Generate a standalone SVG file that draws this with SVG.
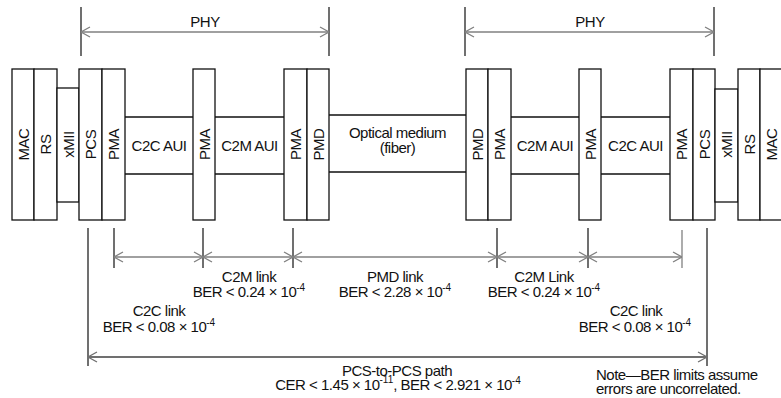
<svg xmlns="http://www.w3.org/2000/svg" width="781" height="398" viewBox="0 0 781 398">
<style>
  text { font-family: "Liberation Sans", Arial, sans-serif; font-size: 15px; letter-spacing: -0.5px; fill: #111; }
  .c { text-anchor: middle; }
  .sup { font-size: 10px; letter-spacing: 0; }
  .blk { fill: #fff; stroke: #111; stroke-width: 1.3; }
  .ln { stroke: #111; stroke-width: 1.3; fill: none; }
  .dim { stroke: #808080; stroke-width: 1.3; fill: none; }
  .ext { stroke: #707070; stroke-width: 2; fill: none; }
  .arr { stroke: #808080; stroke-width: 1.3; fill: none; marker-start: url(#ah); marker-end: url(#ah); }
  .arr2 { stroke: #707070; stroke-width: 2; fill: none; marker-start: url(#ah2); marker-end: url(#ah2); }
</style>
<defs>
  <marker id="ah" viewBox="0 0 10 12" refX="10" refY="6" markerWidth="10" markerHeight="12" markerUnits="userSpaceOnUse" orient="auto-start-reverse">
    <path d="M1,1 L10,6 L1,11" fill="none" stroke="#808080" stroke-width="1.3"/>
  </marker>
  <marker id="ah2" viewBox="0 0 10 12" refX="10" refY="6" markerWidth="10" markerHeight="12" markerUnits="userSpaceOnUse" orient="auto-start-reverse">
    <path d="M1,1 L10,6 L1,11" fill="none" stroke="#707070" stroke-width="1.3"/>
  </marker>
</defs>

<!-- Left stack -->
<g id="mac-left"><rect class="blk" x="12" y="69" width="22" height="151"/><text class="c" transform="translate(23,144.5) rotate(-90)" y="5.5">MAC</text></g>
<g id="rs-left"><rect class="blk" x="34" y="69" width="23" height="151"/><text class="c" transform="translate(45.5,144.5) rotate(-90)" y="5.5">RS</text></g>
<g id="xmii-left"><rect class="blk" x="57" y="88" width="22" height="114"/><text class="c" transform="translate(68,144.5) rotate(-90)" y="5.5">xMII</text></g>
<g id="pcs-left"><rect class="blk" x="79" y="69" width="23" height="151"/><text class="c" transform="translate(90.5,144.5) rotate(-90)" y="5.5">PCS</text></g>
<g id="pma-1"><rect class="blk" x="102" y="69" width="23" height="151"/><text class="c" transform="translate(113.5,144.5) rotate(-90)" y="5.5">PMA</text></g>
<g id="c2c-aui-left"><path class="ln" d="M125,117 H193 M125,174 H193"/><text class="c" x="159" y="151">C2C AUI</text></g>
<g id="pma-2"><rect class="blk" x="193" y="69" width="22" height="151"/><text class="c" transform="translate(204,144.5) rotate(-90)" y="5.5">PMA</text></g>
<g id="c2m-aui-left"><path class="ln" d="M215,117 H284 M215,174 H284"/><text class="c" x="249.5" y="151">C2M AUI</text></g>
<g id="pma-3"><rect class="blk" x="284" y="69" width="23" height="151"/><text class="c" transform="translate(295.5,144.5) rotate(-90)" y="5.5">PMA</text></g>
<g id="pmd-left"><rect class="blk" x="307" y="69" width="22" height="151"/><text class="c" transform="translate(318,144.5) rotate(-90)" y="5.5">PMD</text></g>
<g id="optical-medium"><path class="ln" d="M329,115 H466 M329,172 H466"/><text class="c" x="397.5" y="138">Optical medium</text><text class="c" x="397.5" y="153">(fiber)</text></g>
<g id="pmd-right"><rect class="blk" x="466" y="69" width="22" height="151"/><text class="c" transform="translate(477,144.5) rotate(-90)" y="5.5">PMD</text></g>
<g id="pma-4"><rect class="blk" x="488" y="69" width="23" height="151"/><text class="c" transform="translate(499.5,144.5) rotate(-90)" y="5.5">PMA</text></g>
<g id="c2m-aui-right"><path class="ln" d="M511,117 H579 M511,174 H579"/><text class="c" x="545" y="151">C2M AUI</text></g>
<g id="pma-5"><rect class="blk" x="579" y="69" width="22" height="151"/><text class="c" transform="translate(590,144.5) rotate(-90)" y="5.5">PMA</text></g>
<g id="c2c-aui-right"><path class="ln" d="M601,117 H670 M601,174 H670"/><text class="c" x="635.5" y="151">C2C AUI</text></g>
<g id="pma-6"><rect class="blk" x="670" y="69" width="23" height="151"/><text class="c" transform="translate(681.5,144.5) rotate(-90)" y="5.5">PMA</text></g>
<g id="pcs-right"><rect class="blk" x="693" y="69" width="22" height="151"/><text class="c" transform="translate(704,144.5) rotate(-90)" y="5.5">PCS</text></g>
<g id="xmii-right"><rect class="blk" x="715" y="89" width="23" height="113"/><text class="c" transform="translate(726.5,144.5) rotate(-90)" y="5.5">xMII</text></g>
<g id="rs-right"><rect class="blk" x="738" y="69" width="22" height="151"/><text class="c" transform="translate(749,144.5) rotate(-90)" y="5.5">RS</text></g>
<g id="mac-right"><rect class="blk" x="760" y="69" width="24" height="151"/><text class="c" transform="translate(771,144.5) rotate(-90)" y="5.5">MAC</text></g>

<!-- Connectors / dimension lines -->
<g id="connectors">
  <path class="ext" d="M81,7 V56 M329,7 V56 M465,7 V56 M714,7 V56"/>
  <line class="arr" x1="81" y1="32" x2="329" y2="32"/>
  <line class="arr" x1="465" y1="32" x2="714" y2="32"/>
  <path class="ext" d="M88,228 V366 M707,228 V366"/>
  <path class="ext" d="M114,228 V268 M203,228 V268 M293,228 V268 M497,228 V268 M588,228 V268"/>
  <path class="dim" d="M682,230 V268"/>
  <line class="arr" x1="114" y1="257" x2="203" y2="257"/>
  <line class="arr" x1="203" y1="257" x2="293" y2="257"/>
  <line class="arr" x1="293" y1="257" x2="497" y2="257"/>
  <line class="arr" x1="497" y1="257" x2="588" y2="257"/>
  <line class="arr" x1="588" y1="257" x2="682" y2="257"/>
  <line class="arr2" x1="88" y1="357" x2="707" y2="357"/>
</g>

<!-- Labels -->
<g id="labels">
  <text class="c" x="205" y="27">PHY</text>
  <text class="c" x="590" y="27">PHY</text>
  <text class="c" x="249" y="282">C2M link</text>
  <text class="c" x="249" y="297">BER &lt; 0.24 × 10<tspan class="sup" dy="-6">-4</tspan></text>
  <text class="c" x="159" y="316">C2C link</text>
  <text class="c" x="159" y="332">BER &lt; 0.08 × 10<tspan class="sup" dy="-6">-4</tspan></text>
  <text class="c" x="395" y="282">PMD link</text>
  <text class="c" x="395" y="297">BER &lt; 2.28 × 10<tspan class="sup" dy="-6">-4</tspan></text>
  <text class="c" x="544" y="282">C2M Link</text>
  <text class="c" x="544" y="297">BER &lt; 0.24 × 10<tspan class="sup" dy="-6">-4</tspan></text>
  <text class="c" x="636" y="316">C2C link</text>
  <text class="c" x="635" y="332">BER &lt; 0.08 × 10<tspan class="sup" dy="-6">-4</tspan></text>
  <text class="c" x="397" y="376">PCS-to-PCS path</text>
  <text class="c" x="398" y="390">CER &lt; 1.45 × 10<tspan class="sup" dy="-7">-11</tspan><tspan dy="7">, BER &lt; 2.921 × 10</tspan><tspan class="sup" dy="-6">-4</tspan></text>
  <text x="596" y="380">Note—BER limits assume</text>
  <text x="596" y="394">errors are uncorrelated.</text>
</g>
</svg>
